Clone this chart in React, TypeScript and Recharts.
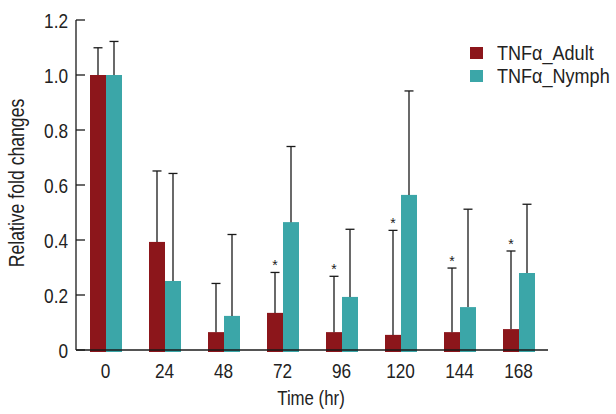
import React from 'react';
import { BarChart, Bar, XAxis, YAxis } from 'recharts';

const hours = ['0', '24', '48', '72', '96', '120', '144', '168'];
const adult = [1.0, 0.393, 0.065, 0.135, 0.065, 0.055, 0.065, 0.076];
const adultErrTop = [1.099, 0.651, 0.242, 0.282, 0.268, 0.435, 0.298, 0.36];
const adultStar = [false, false, false, true, true, true, true, true];
const nymph = [1.0, 0.251, 0.124, 0.465, 0.193, 0.564, 0.156, 0.28];
const nymphErrTop = [1.122, 0.642, 0.42, 0.74, 0.439, 0.942, 0.512, 0.53];
const yTicks = [0, 0.2, 0.4, 0.6, 0.8, 1.0, 1.2];
const seriesNames = ['TNFα_Adult', 'TNFα_Nymph'];

const ADULT = '#8c161b';
const NYMPH = '#3ba6a8';
const FONT = "'Liberation Sans', Arial, sans-serif";
const SQUEEZE = 0.82; // fake a condensed face

const data = hours.map((h, i) => ({
  hour: h,
  adult: adult[i],
  adultErr: adultErrTop[i],
  adultStar: adultStar[i],
  nymph: nymph[i],
  nymphErr: nymphErrTop[i],
}));

// bar + upward whisker (+ optional asterisk)
function makeShape(valueKey: string, errKey: string, starKey?: string) {
  return (props: any) => {
    const { x, y, width, height, payload, fill } = props;
    const v = payload[valueKey];
    const unit = height / v;
    const base = y + height;
    const top = base - payload[errKey] * unit;
    const cx = x + width / 2;
    return (
      <g>
        <rect x={x} y={y} width={width} height={height + 2} fill={fill} />
        <line x1={cx} y1={y} x2={cx} y2={top} stroke="#1a1a1a" strokeWidth={1.3} />
        <line x1={cx - 4.5} y1={top} x2={cx + 4.5} y2={top} stroke="#1a1a1a" strokeWidth={1.3} />
        {starKey && payload[starKey] ? (
          <text x={cx} y={top - 2} textAnchor="middle" fontSize={14} fill="#1a1a1a" fontFamily={FONT}>
            *
          </text>
        ) : null}
      </g>
    );
  };
}

function YTick(props: any) {
  const { x, y, payload } = props;
  const label = payload.value === 0 ? '0' : payload.value.toFixed(1);
  return (
    <g>
      <line x1={x + 8} y1={y} x2={x + 17} y2={y} stroke="#1a1a1a" strokeWidth={1.3} />
      <text
        transform={`translate(${x}, ${y}) scale(${SQUEEZE}, 1)`}
        dy="0.36em"
        textAnchor="end"
        fontSize={21}
        fill="#222"
        fontFamily={FONT}
      >
        {label}
      </text>
    </g>
  );
}

function XTick(props: any) {
  const { x, y, payload } = props;
  return (
    <text
      transform={`translate(${x}, ${y + 20}) scale(${SQUEEZE}, 1)`}
      textAnchor="middle"
      fontSize={21}
      fill="#222"
      fontFamily={FONT}
    >
      {payload.value}
    </text>
  );
}

function LegendBox() {
  const colors = [ADULT, NYMPH];
  return (
    <div
      style={{
        position: 'absolute',
        left: 470,
        top: 41,
        fontFamily: FONT,
        fontSize: 20.5,
        color: '#222',
        lineHeight: '23px',
      }}
    >
      {seriesNames.map((name, i) => (
        <div key={name} style={{ display: 'flex', alignItems: 'center', height: 23 }}>
          <div style={{ width: 13, height: 12, background: colors[i], marginRight: 14, flex: 'none' }} />
          <span style={{ display: 'inline-block', transform: 'scaleX(0.88)', transformOrigin: 'left center', whiteSpace: 'nowrap' }}>
            {name}
          </span>
        </div>
      ))}
    </div>
  );
}

export default function App() {
  return (
    <div style={{ position: 'absolute', left: 0, top: 0, width: 616, height: 414, background: '#fff' }}>
      <BarChart
        width={616}
        height={414}
        data={data}
        margin={{ top: 20, right: 68, left: 0, bottom: 0 }}
        barGap={0}
        barSize={16}
      >
        <XAxis
          dataKey="hour"
          tickLine={false}
          axisLine={{ stroke: '#1a1a1a', strokeWidth: 1.3 }}
          tickSize={6}
          tickMargin={2}
          tick={<XTick />}
          height={64}
          label={{
            content: (p: any) => {
              const vb = p.viewBox || { x: 76, width: 472 };
              return (
                <text
                  transform={`translate(${vb.x + vb.width / 2 - 1}, 405) scale(${SQUEEZE}, 1)`}
                  textAnchor="middle"
                  fontSize={20.5}
                  fill="#222"
                  fontFamily={FONT}
                >
                  Time (hr)
                </text>
              );
            },
          }}
        />
        <YAxis
          domain={[0, 1.2]}
          ticks={yTicks}
          width={76}
          tickSize={6}
          tickMargin={2}
          tickLine={false}
          axisLine={{ stroke: '#1a1a1a', strokeWidth: 1.3 }}
          tick={<YTick />}
          label={{
            content: (p: any) => {
              const vb = p.viewBox || { y: 20, height: 330 };
              return (
                <text
                  transform={`translate(16, ${vb.y + vb.height / 2 - 2}) rotate(-90) scale(${SQUEEZE}, 1)`}
                  textAnchor="middle"
                  dominantBaseline="central"
                  fontSize={21.5}
                  fill="#222"
                  fontFamily={FONT}
                >
                  Relative fold changes
                </text>
              );
            },
          }}
        />
        <Bar
          dataKey="adult"
          name={seriesNames[0]}
          fill={ADULT}
          isAnimationActive={false}
          shape={makeShape('adult', 'adultErr', 'adultStar')}
        />
        <Bar
          dataKey="nymph"
          name={seriesNames[1]}
          fill={NYMPH}
          isAnimationActive={false}
          shape={makeShape('nymph', 'nymphErr')}
        />
      </BarChart>
      <LegendBox />
    </div>
  );
}
